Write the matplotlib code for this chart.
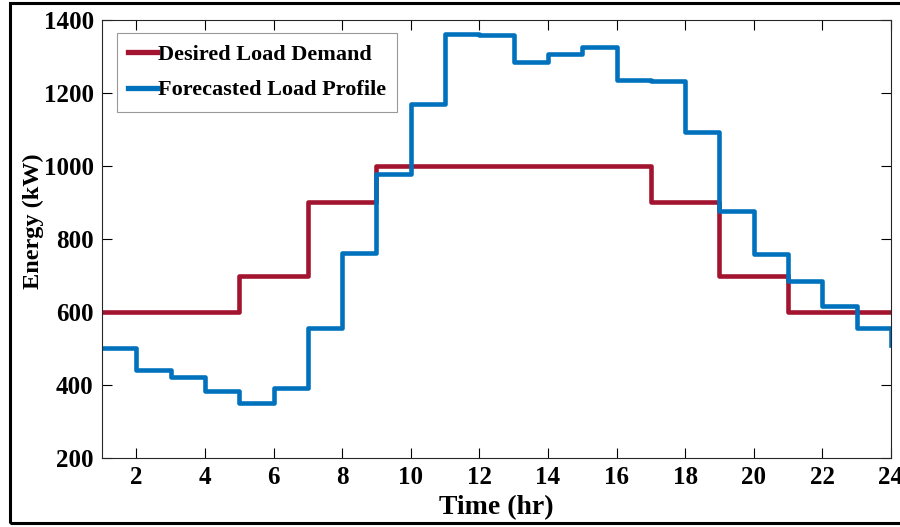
import matplotlib
matplotlib.use('Agg')
import matplotlib.pyplot as plt
from matplotlib.patches import Rectangle
import numpy as np

hours = np.arange(1, 25)
desired = [600, 600, 600, 600, 700, 700, 900, 900, 1000, 1000, 1000, 1000,
           1000, 1000, 1000, 1000, 900, 900, 700, 700, 600, 600, 600, 600]
forecast = [502, 440, 421, 383, 352, 393, 557, 761, 978, 1170, 1361, 1359,
            1284, 1307, 1327, 1236, 1232, 1093, 877, 759, 685, 616, 555, 510]


def main():
    plt.rcParams['font.family'] = ['Liberation Serif', 'DejaVu Serif']
    plt.rcParams['font.weight'] = 'bold'

    fig = plt.figure(figsize=(9, 5.27), dpi=100)
    ax = fig.add_axes([102/900, 1-458/527, 789/900, 438/527])

    ax.step(hours, desired, where='post', color='#A2142F', lw=3.3,
            label='Desired Load Demand')
    ax.step(hours, forecast, where='post', color='#0072BD', lw=3.3,
            label='Forecasted Load Profile')

    ax.set_xlim(1, 24)
    ax.set_ylim(200, 1400)
    ax.set_xticks(np.arange(2, 25, 2))
    ax.set_yticks(np.arange(200, 1401, 200))
    ax.tick_params(direction='in', length=7, width=0.8, labelsize=18,
                   top=True, right=True, pad=6)
    for lab in ax.get_xticklabels() + ax.get_yticklabels():
        lab.set_fontweight('bold')
    for sp in ax.spines.values():
        sp.set_linewidth(0.8)
        sp.set_color('#262626')

    ax.set_xlabel('Time (hr)', fontsize=20, fontweight='bold')
    ax.set_ylabel('Energy (kW)', fontsize=17.5, fontweight='bold')
    ax.xaxis.set_label_coords(0.5, -0.085)
    ax.yaxis.set_label_coords(-0.073, 0.54)

    leg = ax.legend(loc='upper left', bbox_to_anchor=(0.019, 0.97),
                    borderaxespad=0, prop={'weight': 'bold', 'size': 16},
                    handlelength=1.3, handletextpad=0.05, borderpad=0.5,
                    labelspacing=0.68, fancybox=False, framealpha=1)
    leg.get_frame().set_edgecolor('#999999')
    leg.get_frame().set_linewidth(0.8)
    for ln in leg.get_lines():
        ln.set_linewidth(3.8)

    fig.patches.append(Rectangle((10/900, 4/527), 1.0, 520/527, transform=fig.transFigure,
                                 fill=False, edgecolor='black', lw=2.2, clip_on=False))

    fig.savefig('out.png', dpi=100)


if __name__ == '__main__':
    main()
